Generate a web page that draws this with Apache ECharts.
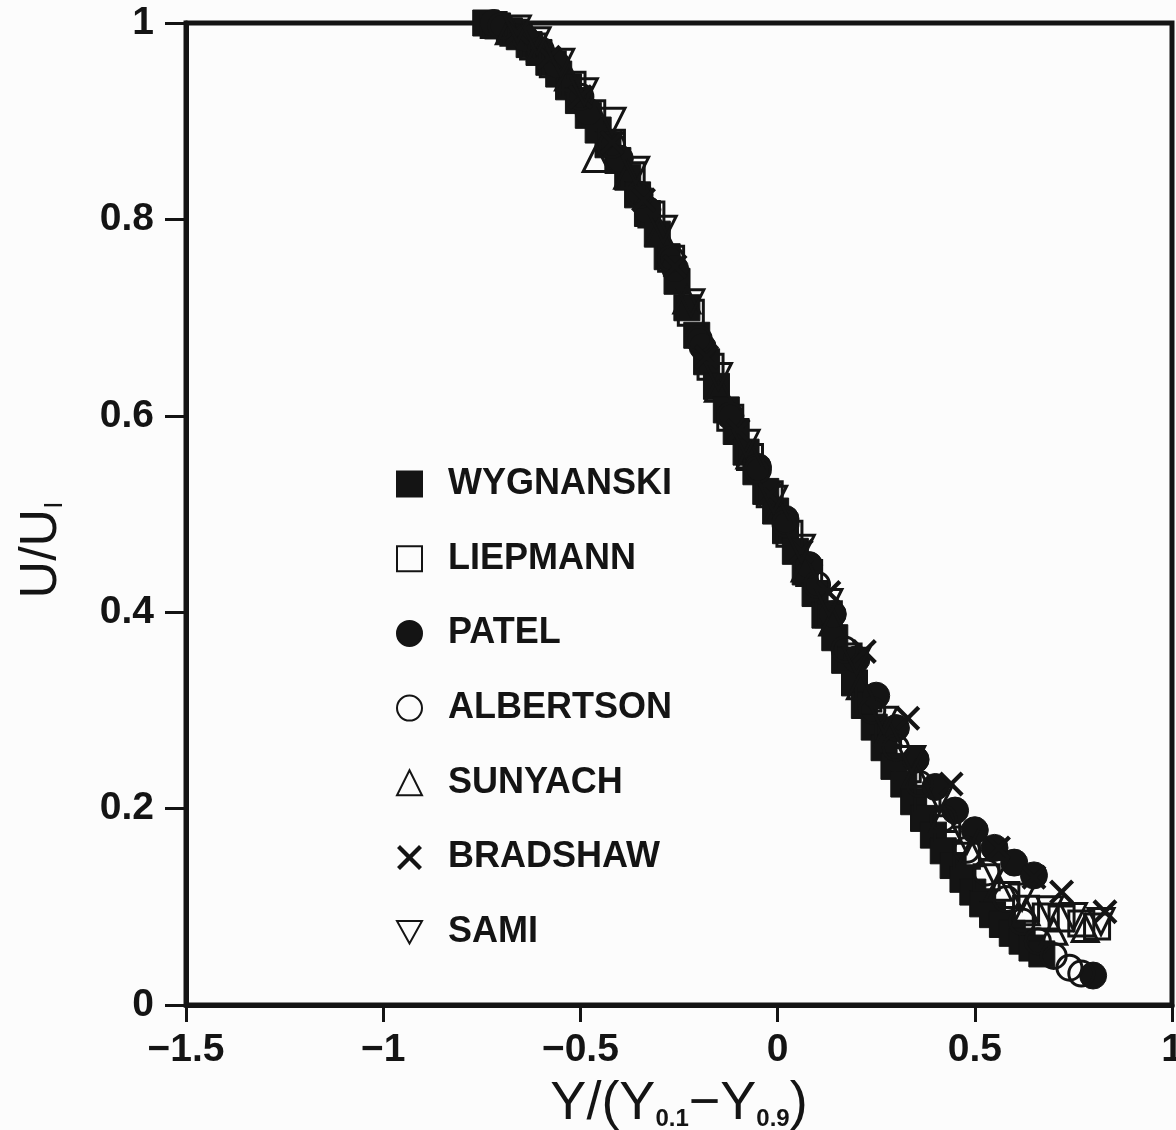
<!DOCTYPE html>
<html>
<head>
<meta charset="utf-8">
<script src="https://cdn.jsdelivr.net/npm/echarts@6/dist/echarts.min.js"></script>
<style>
html,body{margin:0;padding:0;background:#fcfcfc;}
#chart{width:1176px;height:1130px;}
</style>
</head>
<body>
<div id="chart"></div>
<script>
// ---- data ----
const seriesNames = ['WYGNANSKI','LIEPMANN','PATEL','ALBERTSON','SUNYACH','BRADSHAW','SAMI'];

const wygnanski = [[-0.74,1.0],[-0.71,0.997],[-0.68,0.992],[-0.655,0.986],[-0.63,0.978],[-0.605,0.97],[-0.58,0.96],[-0.555,0.948],[-0.53,0.935],[-0.505,0.921],[-0.48,0.906],[-0.455,0.891],[-0.43,0.876],[-0.405,0.86],[-0.38,0.843],[-0.355,0.825],[-0.33,0.806],[-0.305,0.785],[-0.28,0.762],[-0.255,0.737],[-0.23,0.71],[-0.205,0.682],[-0.18,0.655],[-0.155,0.63],[-0.13,0.606],[-0.105,0.584],[-0.08,0.563],[-0.055,0.543],[-0.03,0.523],[-0.005,0.503],[0.02,0.483],[0.045,0.462],[0.07,0.441],[0.095,0.419],[0.12,0.397],[0.145,0.374],[0.17,0.351],[0.195,0.328],[0.22,0.305],[0.245,0.283],[0.27,0.262],[0.295,0.243],[0.32,0.225],[0.345,0.207],[0.37,0.19],[0.395,0.173],[0.42,0.157],[0.445,0.142],[0.47,0.128],[0.495,0.115],[0.52,0.103],[0.545,0.092],[0.57,0.082],[0.595,0.073],[0.62,0.065],[0.645,0.058],[0.67,0.052]];
const liepmann = [[-0.72,0.998],[-0.67,0.99],[-0.62,0.976],[-0.57,0.958],[-0.52,0.937],[-0.47,0.908],[-0.42,0.878],[-0.37,0.845],[-0.32,0.805],[-0.27,0.76],[-0.22,0.705],[-0.17,0.65],[-0.12,0.598],[-0.07,0.558],[-0.02,0.52],[0.03,0.48],[0.08,0.44],[0.13,0.398],[0.18,0.355],[0.23,0.312],[0.28,0.275],[0.33,0.24],[0.38,0.21],[0.43,0.18],[0.48,0.152],[0.53,0.13],[0.58,0.112],[0.63,0.098],[0.68,0.09],[0.72,0.088],[0.77,0.083],[0.81,0.08]];
const patel = [[-0.72,1.0],[-0.64,0.985],[-0.56,0.958],[-0.48,0.91],[-0.4,0.862],[-0.33,0.81],[-0.26,0.75],[-0.19,0.67],[-0.12,0.6],[-0.05,0.548],[0.02,0.495],[0.08,0.448],[0.14,0.398],[0.2,0.352],[0.25,0.315],[0.3,0.282],[0.35,0.25],[0.4,0.222],[0.45,0.198],[0.5,0.178],[0.55,0.16],[0.6,0.145],[0.65,0.132],[0.8,0.03]];
const albertson = [[-0.7,0.997],[-0.6,0.972],[-0.5,0.925],[-0.42,0.876],[-0.35,0.825],[-0.27,0.76],[-0.2,0.678],[-0.12,0.6],[-0.05,0.545],[0.02,0.49],[0.1,0.428],[0.17,0.362],[0.24,0.3],[0.3,0.262],[0.36,0.225],[0.42,0.19],[0.48,0.158],[0.53,0.135],[0.58,0.108],[0.62,0.085],[0.66,0.065],[0.7,0.05],[0.74,0.038],[0.77,0.032]];
const sunyach = [[-0.68,0.992],[-0.6,0.975],[-0.53,0.945],[-0.46,0.862],[-0.38,0.845],[-0.3,0.788],[-0.23,0.718],[-0.15,0.628],[-0.07,0.56],[0.0,0.505],[0.07,0.445],[0.14,0.39],[0.21,0.325],[0.28,0.278],[0.35,0.235],[0.42,0.19],[0.49,0.155],[0.56,0.12],[0.63,0.095],[0.7,0.075],[0.78,0.078]];
const bradshaw = [[-0.66,0.99],[-0.58,0.965],[-0.5,0.925],[-0.42,0.878],[-0.34,0.82],[-0.26,0.752],[-0.18,0.66],[-0.1,0.585],[-0.02,0.52],[0.06,0.462],[0.13,0.42],[0.22,0.36],[0.33,0.292],[0.44,0.225],[0.56,0.16],[0.65,0.13],[0.72,0.115],[0.83,0.095]];
const sami = [[-0.66,0.994],[-0.61,0.982],[-0.55,0.96],[-0.49,0.93],[-0.42,0.9],[-0.36,0.85],[-0.29,0.79],[-0.22,0.715],[-0.15,0.64],[-0.08,0.572],[-0.01,0.515],[0.06,0.465],[0.13,0.41],[0.2,0.35],[0.27,0.29],[0.34,0.25],[0.41,0.21],[0.48,0.168],[0.55,0.135],[0.62,0.11],[0.69,0.097],[0.75,0.09],[0.82,0.085]];

const xTicks = {min:-1.5, max:1, interval:0.5};
const yTicks = {min:0, max:1, interval:0.2};

// ---- styling ----
const INK = '#141414';
const crossPath = 'path://M0,1.2 L1.2,0 L5,3.8 L8.8,0 L10,1.2 L6.2,5 L10,8.8 L8.8,10 L5,6.2 L1.2,10 L0,8.8 L3.8,5 Z';
const downTri = 'path://M0,0 L10,0 L5,9 Z';
const openStyle = {color:'rgba(0,0,0,0)', borderColor:INK, borderWidth:3, opacity:1};
const fillStyle = {color:INK, borderColor:INK, borderWidth:1, opacity:1};

const seriesDefs = [
  {data:wygnanski, symbol:'rect', size:26, style:fillStyle},
  {data:liepmann, symbol:'rect', size:25, style:openStyle},
  {data:patel, symbol:'circle', size:27, style:fillStyle},
  {data:albertson, symbol:'circle', size:25, style:openStyle},
  {data:sunyach, symbol:'triangle', size:26, style:openStyle},
  {data:bradshaw, symbol:crossPath, size:25, style:{color:INK, borderWidth:0, opacity:1}},
  {data:sami, symbol:downTri, size:26, style:openStyle}
];

const chart = echarts.init(document.getElementById('chart'), null, {renderer:'canvas'});
const FONT = '"Liberation Sans", Arial, sans-serif';

chart.setOption({
  animation:false,
  backgroundColor:'#fcfcfc',
  grid:{left:186, right:4, top:23, bottom:125, outerBoundsMode:'none', containLabel:false,
        show:true, borderColor:INK, borderWidth:5, backgroundColor:'transparent'},
  legend:{
    orient:'vertical', left:391, top:461, itemGap:38.7, itemWidth:25, itemHeight:25,
    selectedMode:false,
    data:seriesNames,
    textStyle:{fontFamily:FONT, fontSize:36, fontWeight:'bold', color:INK, lineHeight:36, padding:[0,0,0,21]}
  },
  xAxis:{
    type:'value', min:xTicks.min, max:xTicks.max, interval:xTicks.interval,
    axisLine:{show:true, onZero:false, lineStyle:{color:INK, width:5}},
    axisTick:{show:true, length:17, lineStyle:{color:INK, width:3}},
    splitLine:{show:false},
    axisLabel:{fontFamily:FONT, fontSize:39, fontWeight:'bold', color:INK, margin:26,
      formatter:v => String(v).replace('-', '\u2212')},
    name:'{n|Y/(Y}{s|0.1}{n|\u2212Y}{s|0.9}{n|)}',
    nameLocation:'middle', nameGap:68,
    nameTextStyle:{rich:{
      n:{fontFamily:FONT, fontSize:54, color:INK, lineHeight:58, verticalAlign:'bottom'},
      s:{fontFamily:FONT, fontSize:24, fontWeight:'bold', color:INK, lineHeight:58, verticalAlign:'bottom'}
    }}
  },
  yAxis:{
    type:'value', min:yTicks.min, max:yTicks.max, interval:yTicks.interval,
    axisLine:{show:true, onZero:false, lineStyle:{color:INK, width:5}},
    axisTick:{show:true, length:21, lineStyle:{color:INK, width:3}},
    splitLine:{show:false},
    axisLabel:{fontFamily:FONT, fontSize:39, fontWeight:'bold', color:INK, margin:32},
    name:'{n|U/U}{s|I}',
    nameLocation:'middle', nameGap:118, nameRotate:90,
    nameTextStyle:{padding:[0,72,0,0], rich:{
      n:{fontFamily:FONT, fontSize:52, color:INK, lineHeight:56, verticalAlign:'bottom'},
      s:{fontFamily:FONT, fontSize:26, color:INK, lineHeight:56, verticalAlign:'bottom'}
    }}
  },
  series: seriesDefs.map((d,i) => ({
    name:seriesNames[i], type:'scatter', data:d.data,
    symbol:d.symbol, symbolSize:d.size, itemStyle:d.style,
    emphasis:{disabled:true}, z:2
  }))
});
</script>
</body>
</html>
